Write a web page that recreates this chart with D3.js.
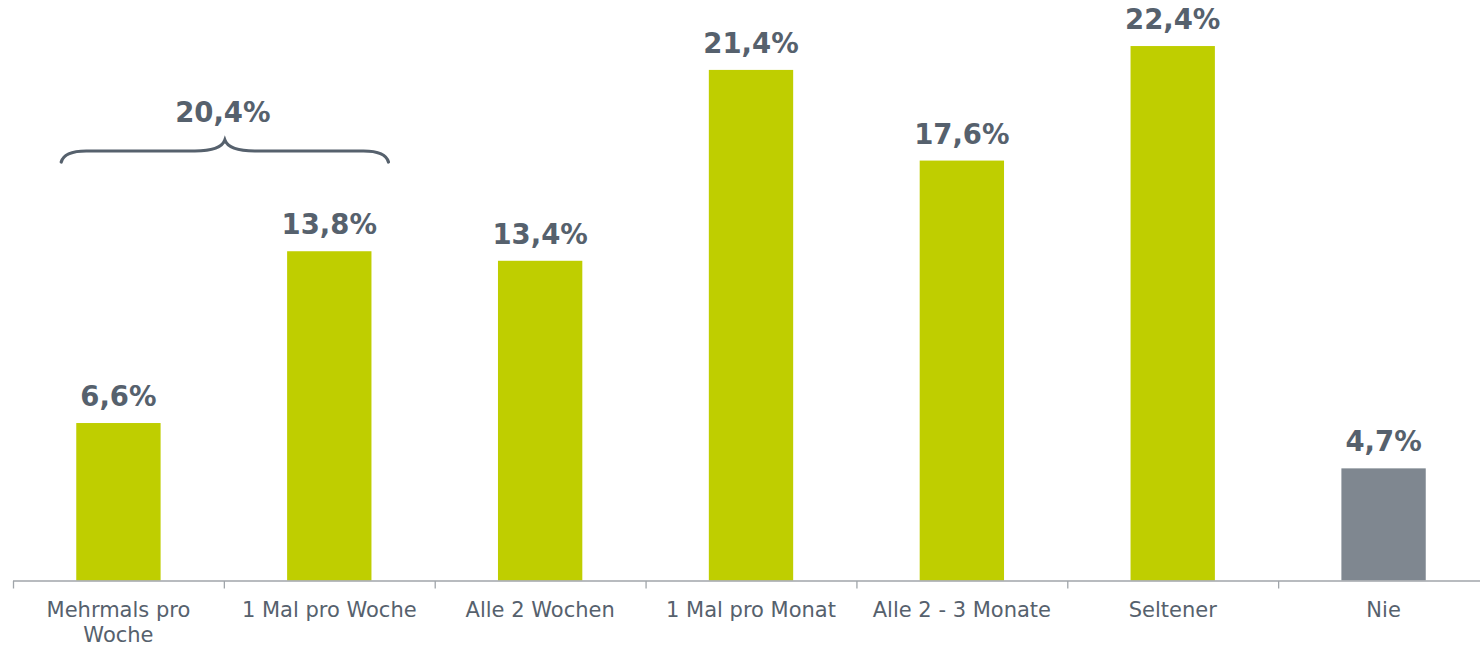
<!DOCTYPE html>
<html>
<head>
<meta charset="utf-8">
<script src="https://cdn.jsdelivr.net/npm/d3@7"></script>
<style>
  body { margin: 0; background: #fff; }
  svg { display: block; font-family: "DejaVu Sans", Verdana, sans-serif; }
</style>
</head>
<body>
<div id="chart"></div>
<script>
const categories = ["Mehrmals pro|Woche", "1 Mal pro Woche", "Alle 2 Wochen", "1 Mal pro Monat", "Alle 2 - 3 Monate", "Seltener", "Nie"];
const values = [6.6, 13.8, 13.4, 21.4, 17.6, 22.4, 4.7];
const valueLabels = ["6,6%", "13,8%", "13,4%", "21,4%", "17,6%", "22,4%", "4,7%"];
const barColors = ["#bfce00", "#bfce00", "#bfce00", "#bfce00", "#bfce00", "#bfce00", "#7f8790"];
const groupLabel = "20,4%";   // sum of first two
const groupCats = [0, 1];

const width = 1480, height = 646;
const textColor = "#56616d";

const svg = d3.select("#chart").append("svg")
    .attr("width", width)
    .attr("height", height);

const x = d3.scaleBand().domain(d3.range(categories.length)).range([13, 1489]).paddingInner(0.6).paddingOuter(0.3);
const y = d3.scaleLinear().domain([0, 24.33]).range([580.5, 0]);

// bars
svg.append("g").selectAll("rect")
    .data(values)
    .join("rect")
    .attr("x", (d, i) => x(i))
    .attr("y", d => y(d))
    .attr("width", x.bandwidth())
    .attr("height", d => y(0) - y(d))
    .attr("fill", (d, i) => barColors[i]);

// value labels
svg.append("g").selectAll("text")
    .data(values)
    .join("text")
    .attr("x", (d, i) => x(i) + x.bandwidth() / 2)
    .attr("y", d => y(d) - 17)
    .attr("text-anchor", "middle")
    .attr("fill", textColor)
    .style("font-size", "27.5px")
    .style("font-weight", "bold")
    .text((d, i) => valueLabels[i]);

// x axis
const step = x.step();
const axis = svg.append("g");
axis.append("line")
    .attr("x1", 13).attr("x2", 1489)
    .attr("y1", y(0) + 0.5).attr("y2", y(0) + 0.5)
    .attr("stroke", "#a0a5aa").attr("stroke-width", 1.3);
axis.selectAll(".tick")
    .data(d3.range(categories.length + 1))
    .join("line")
    .attr("class", "tick")
    .attr("x1", i => 13.5 + i * step).attr("x2", i => 13.5 + i * step)
    .attr("y1", y(0) + 0.5).attr("y2", y(0) + 8)
    .attr("stroke", "#a0a5aa").attr("stroke-width", 1.3);

const catText = axis.selectAll(".cat")
    .data(categories)
    .join("text")
    .attr("class", "cat")
    .attr("text-anchor", "middle")
    .attr("fill", textColor)
    .style("font-size", "21px")
    .attr("transform", (d, i) => `translate(${x(i) + x.bandwidth() / 2},${y(0) + 36})`);
catText.each(function(d) {
    const lines = d.split("|");
    d3.select(this).selectAll("tspan")
        .data(lines)
        .join("tspan")
        .attr("x", 0)
        .attr("dy", (l, j) => j === 0 ? 0 : 25.5)
        .text(l => l);
});

// brace over the first two bars
const bx0 = x(groupCats[0]) - 15;
const bx1 = x(groupCats[1]) + x.bandwidth() + 17;
const bm = (bx0 + bx1) / 2;
const by = 151;
const brace = `M${bx0},${by + 11} Q${bx0 + 3},${by} ${bx0 + 25},${by}
  L${bm - 30},${by} Q${bm - 4},${by} ${bm},${by - 11}
  Q${bm + 4},${by} ${bm + 30},${by}
  L${bx1 - 25},${by} Q${bx1 - 3},${by} ${bx1},${by + 11}`;
svg.append("path")
    .attr("d", brace)
    .attr("fill", "none")
    .attr("stroke", textColor)
    .attr("stroke-width", 3.2)
    .attr("stroke-linecap", "round");

svg.append("text")
    .attr("x", bm - 2)
    .attr("y", by - 29)
    .attr("text-anchor", "middle")
    .attr("fill", textColor)
    .style("font-size", "27.5px")
    .style("font-weight", "bold")
    .text(groupLabel);
</script>
</body>
</html>
